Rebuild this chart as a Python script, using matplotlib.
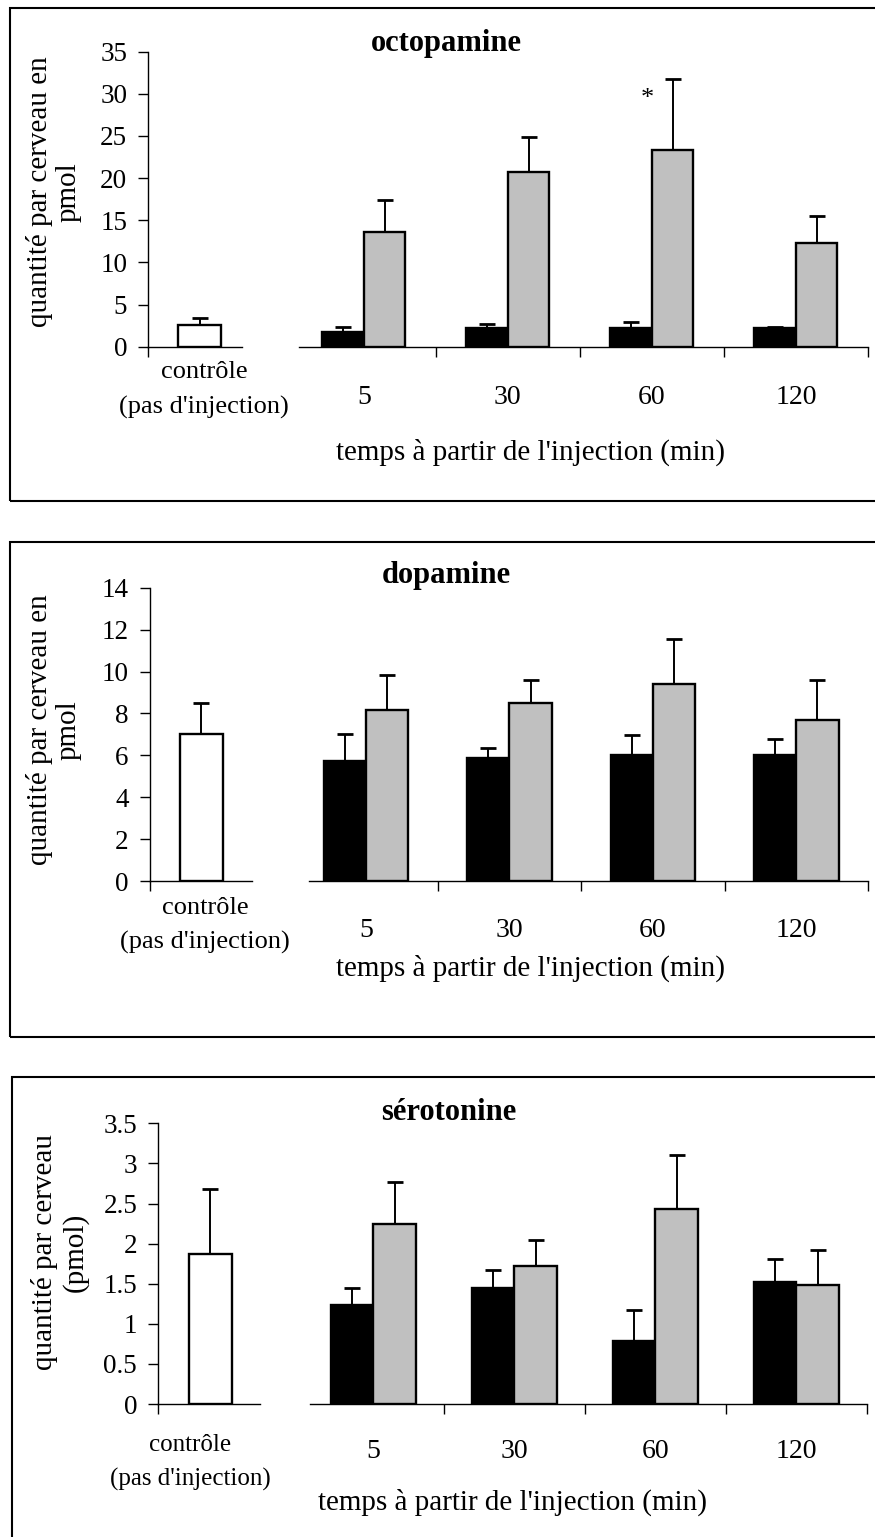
import matplotlib
matplotlib.use("Agg")
import matplotlib.pyplot as plt
from matplotlib.patches import Rectangle

plt.rcParams['font.family'] = ['Liberation Serif', 'DejaVu Serif']

# ---------------- data ----------------
groups = ["5", "30", "60", "120"]
ctrl_line1 = "contrôle"
ctrl_line2 = "(pas d'injection)"
xlabel_text = "temps à partir de l'injection (min)"

oct_title = "octopamine"
oct_ylabel = "quantité par cerveau en\npmol"
oct_ctrl = 2.6
oct_ctrl_err = 0.8
oct_black = [1.78, 2.2, 2.2, 2.2]
oct_black_err = [0.55, 0.45, 0.75, 0.15]
oct_gray = [13.6, 20.7, 23.3, 12.3]
oct_gray_err = [3.8, 4.2, 8.5, 3.2]
oct_yticks = [0, 5, 10, 15, 20, 25, 30, 35]

dop_title = "dopamine"
dop_ylabel = "quantité par cerveau en\npmol"
dop_ctrl = 7.0
dop_ctrl_err = 1.5
dop_black = [5.71, 5.89, 6.01, 6.0]
dop_black_err = [1.32, 0.45, 0.95, 0.78]
dop_gray = [8.18, 8.5, 9.4, 7.68]
dop_gray_err = [1.65, 1.08, 2.15, 1.9]
dop_yticks = [0, 2, 4, 6, 8, 10, 12, 14]

ser_title = "sérotonine"
ser_ylabel = "quantité par cerveau\n(pmol)"
ser_ctrl = 1.87
ser_ctrl_err = 0.81
ser_black = [1.24, 1.45, 0.78, 1.52]
ser_black_err = [0.21, 0.22, 0.39, 0.29]
ser_gray = [2.24, 1.72, 2.43, 1.49]
ser_gray_err = [0.53, 0.33, 0.67, 0.43]
ser_yticks = [0, 0.5, 1, 1.5, 2, 2.5, 3, 3.5]
ser_yticklabels = ["0", "0.5", "1", "1.5", "2", "2.5", "3", "3.5"]

W, H = 875, 1537
fig = plt.figure(figsize=(W / 100, H / 100), dpi=100)


def fx(x):
    return x / W


def fy(y):
    return 1 - y / H


GRAY = "#c0c0c0"
EDGE_LW = 1.7
TICK_FS = 19.5


def panel(cfg, title, ylabel, ctrl, ctrl_err, black, black_err, gray, gray_err,
          yticks, yticklabels=None, star=None):
    sx, cr, cc = cfg["spine_x"], cfg["ctrl_right"], cfg["ctrl_center"]
    ml, mr = cfg["main_left"], cfg["main_right"]
    y0, yt = cfg["y0"], cfg["ytop"]
    ymax = yticks[-1]
    # border
    bx, btop, bbot = cfg["border"]
    fig.patches.append(Rectangle((fx(bx), fy(bbot)), 1.2, fy(btop) - fy(bbot),
                                 transform=fig.transFigure, fill=False,
                                 lw=1.5, ec="black", zorder=0))
    # control axes
    axc = fig.add_axes([fx(sx), fy(y0), (cr - sx) / W, (y0 - yt) / H])
    bw = 43.0
    axc.set_xlim(-(cc - sx) / bw, (cr - cc) / bw)
    axc.set_ylim(0, ymax)
    axc.bar([0], [ctrl], width=1.0, color="white", edgecolor="black", lw=EDGE_LW, zorder=3)
    axc.errorbar([0], [ctrl], yerr=[[0], [ctrl_err]], fmt="none", ecolor="black",
                 elinewidth=1.4, capsize=5.5, capthick=2.0, zorder=2)
    for s in ["top", "right"]:
        axc.spines[s].set_visible(False)
    axc.spines["left"].set_linewidth(1.0)
    axc.spines["bottom"].set_linewidth(1.0)
    axc.set_yticks(yticks)
    axc.set_yticklabels(yticklabels if yticklabels else [str(v) for v in yticks],
                        fontsize=TICK_FS)
    axc.tick_params(axis="y", direction="out", length=7, width=1.0, pad=8)
    axc.set_xticks([axc.get_xlim()[0]])
    axc.set_xticklabels([""])
    axc.tick_params(axis="x", direction="out", length=7, width=1.0)
    axc.patch.set_alpha(0)

    # main axes
    axm = fig.add_axes([fx(ml), fy(y0), (mr - ml) / W, (y0 - yt) / H])
    axm.set_xlim(cfg["xlim_left"], 3.5)
    axm.set_ylim(0, ymax)
    pos = list(range(len(groups)))
    bwm = cfg["bar_w"]
    xb = [p - bwm / 2 for p in pos]
    xg = [p + bwm / 2 for p in pos]
    axm.bar(xb, black, width=bwm, color="black", edgecolor="black", lw=EDGE_LW, zorder=3)
    axm.bar(xg, gray, width=bwm, color=GRAY, edgecolor="black", lw=EDGE_LW, zorder=3)
    axm.errorbar(xb, black, yerr=[[0] * 4, black_err], fmt="none", ecolor="black",
                 elinewidth=1.4, capsize=5.5, capthick=2.0, zorder=2)
    axm.errorbar(xg, gray, yerr=[[0] * 4, gray_err], fmt="none", ecolor="black",
                 elinewidth=1.4, capsize=5.5, capthick=2.0, zorder=2)
    for s in ["top", "right", "left"]:
        axm.spines[s].set_visible(False)
    axm.spines["bottom"].set_linewidth(1.0)
    axm.set_yticks([])
    axm.set_xticks([0.5, 1.5, 2.5, 3.5])
    axm.set_xticklabels([""] * 4)
    axm.tick_params(axis="x", direction="out", length=7, width=1.0)
    axm.patch.set_alpha(0)
    if star is not None:
        axm.text(star[0], star[1], "*", ha="center", va="center", fontsize=19)

    # group labels
    for p, g in zip(pos, groups):
        axm.annotate(g, xy=(p, 0), xycoords="data",
                     xytext=(0, -(cfg["tick_y"] - y0) * 0.72), textcoords="offset points",
                     ha="center", va="center", fontsize=20)
    # text
    fig.text(fx(cfg["title_x"]), fy(cfg["title_y"]), title, ha="center", va="center",
             fontsize=22, fontweight="bold")
    fig.text(fx(cfg["ctrl_x"]), fy(cfg["ctrl_y1"]), ctrl_line1, ha="center", va="center",
             fontsize=cfg["ctrl_fs"])
    fig.text(fx(cfg["ctrl_x"]), fy(cfg["ctrl_y2"]), ctrl_line2, ha="center", va="center",
             fontsize=cfg["ctrl_fs"])
    fig.text(fx(cfg["xl_x"]), fy(cfg["xl_y"]), xlabel_text, ha="center", va="center",
             fontsize=21)
    fig.text(fx(cfg["yl_x"]), fy(cfg["yl_y"]), ylabel, ha="center", va="center",
             rotation=90, fontsize=21, linespacing=1.15, multialignment="center")


cfg1 = dict(spine_x=148, ctrl_right=242, ctrl_center=199.5, main_left=299, main_right=868,
            y0=346.7, ytop=51.7, border=(10, 8, 501), xlim_left=-0.45, bar_w=0.288,
            title_x=446, title_y=43, tick_y=397, ctrl_x=204, ctrl_y1=372, ctrl_y2=407,
            ctrl_fs=19, xl_x=530, xl_y=452, yl_x=54, yl_y=192)
cfg2 = dict(spine_x=149.5, ctrl_right=252, ctrl_center=201, main_left=308.6, main_right=868,
            y0=881, ytop=587.7, border=(10, 542, 1037), xlim_left=-0.40, bar_w=0.295,
            title_x=446, title_y=575, tick_y=930, ctrl_x=205, ctrl_y1=908, ctrl_y2=942,
            ctrl_fs=19, xl_x=530, xl_y=968, yl_x=54, yl_y=730)
cfg3 = dict(spine_x=158, ctrl_right=260, ctrl_center=210, main_left=310, main_right=867,
            y0=1404, ytop=1123.3, border=(12, 1077, 1600), xlim_left=-0.45, bar_w=0.3,
            title_x=449, title_y=1113, tick_y=1452, ctrl_x=190, ctrl_y1=1445, ctrl_y2=1479,
            ctrl_fs=18, xl_x=513, xl_y=1502, yl_x=60, yl_y=1252)

panel(cfg1, oct_title, oct_ylabel, oct_ctrl, oct_ctrl_err, oct_black, oct_black_err,
      oct_gray, oct_gray_err, oct_yticks, star=(1.97, 29.4))
panel(cfg2, dop_title, dop_ylabel, dop_ctrl, dop_ctrl_err, dop_black, dop_black_err,
      dop_gray, dop_gray_err, dop_yticks)
panel(cfg3, ser_title, ser_ylabel, ser_ctrl, ser_ctrl_err, ser_black, ser_black_err,
      ser_gray, ser_gray_err, ser_yticks, yticklabels=ser_yticklabels)

fig.savefig("out.png", dpi=100)
